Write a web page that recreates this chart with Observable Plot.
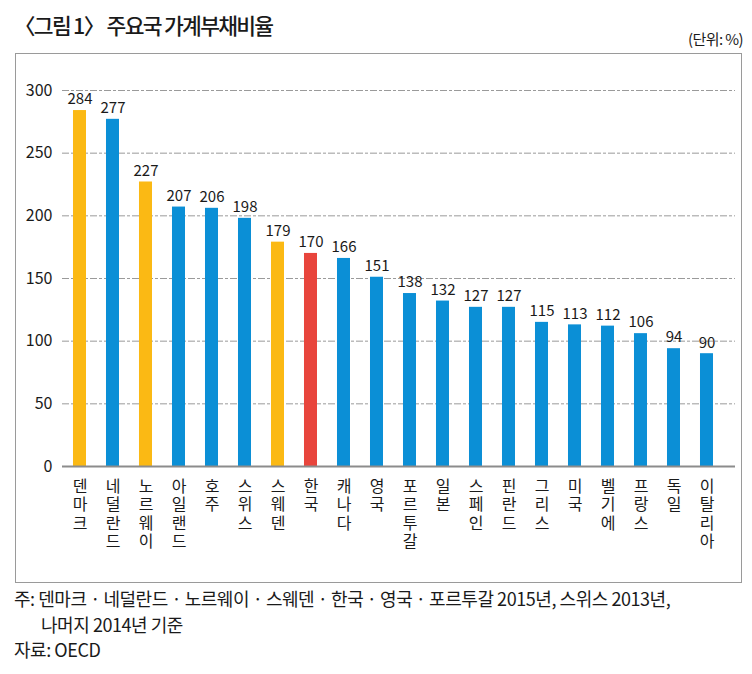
<!DOCTYPE html>
<html>
<head>
<meta charset="utf-8">
<script src="https://cdn.jsdelivr.net/npm/d3@7"></script>
<script src="https://cdn.jsdelivr.net/npm/@observablehq/plot@0.6"></script>
<style>
  html, body { margin: 0; padding: 0; background: #fff; }
  body { width: 752px; height: 674px; position: relative; overflow: hidden;
         font-family: "Noto Sans CJK KR", "Noto Sans", sans-serif; color: #1a1a1a; }
  #title { position: absolute; left: 14px; top: 9px; font-size: 21.5px; font-weight: 500;
           letter-spacing: -1.7px; white-space: nowrap; }
  #unit { position: absolute; right: 9px; top: 28px; font-size: 15px; letter-spacing: -0.6px; }
  #box { position: absolute; left: 15px; top: 53px; width: 725px; height: 528px; border: 1px solid #9a9a9a; }
  #chart { position: absolute; left: 0; top: 53px; }
  .note { position: absolute; font-size: 18px; letter-spacing: -0.45px; white-space: nowrap; }
</style>
</head>
<body>
<div id="title">〈그림 1〉 주요국 가계부채비율</div>
<div id="unit">(단위: %)</div>
<div id="box"></div>
<div id="chart"></div>
<div class="note" style="left:14px; top:585px;">주: 덴마크 · 네덜란드 · 노르웨이 · 스웨덴 · 한국 · 영국 · 포르투갈 2015년, 스위스 2013년,</div>
<div class="note" style="left:41px; top:611px;">나머지 2014년 기준</div>
<div class="note" style="left:14px; top:636px;">자료: OECD</div>
<script>
const countries = ["덴마크","네덜란드","노르웨이","아일랜드","호주","스위스","스웨덴","한국","캐나다","영국",
                   "포르투갈","일본","스페인","핀란드","그리스","미국","벨기에","프랑스","독일","이탈리아"];
const ratios = [284,277,227,207,206,198,179,170,166,151,138,132,127,127,115,113,112,106,94,90];
const nordic = ["덴마크","노르웨이","스웨덴"];
const focus = ["한국"];
const yTicks = [0,50,100,150,200,250,300];

const groupOf = c => focus.includes(c) ? "focus" : nordic.includes(c) ? "nordic" : "other";
const data = countries.map((c, i) => ({country: c, value: ratios[i], group: groupOf(c)}));

const chart = Plot.plot({
  width: 752,
  height: 529,
  marginLeft: 62,
  marginRight: 17,
  marginTop: 37,
  marginBottom: 116,
  style: {fontFamily: '"Noto Sans CJK KR", "Noto Sans", sans-serif', color: "#1a1a1a", background: "transparent"},
  x: {domain: countries, paddingInner: 0.606, paddingOuter: 0.5, align: 0.333, round: false, label: null},
  y: {domain: [0, 300], label: null},
  color: {domain: ["nordic", "focus", "other"], range: ["#fbb914", "#e8453c", "#0b8fd6"]},
  marks: [
    Plot.ruleY(yTicks.filter(d => d > 0), {stroke: "#9a9a9a", strokeWidth: 1, strokeDasharray: "7,2,3,2"}),
    Plot.barY(data, {x: "country", y: "value", fill: "group"}),
    Plot.ruleY([0], {stroke: "#8c8c8c", strokeWidth: 2}),
    Plot.text(data, {x: "country", y: "value", text: d => String(d.value), dy: -11,
                     fontSize: 15, fill: "#1a1a1a", style: "letter-spacing:-1px"}),
    Plot.axisY({ticks: yTicks, tickSize: 0, tickPadding: 10, fontSize: 16, label: null,
                tickFormat: d => String(d), style: "letter-spacing:-1px"}),
    Plot.axisX({tickSize: 0, tickPadding: 12, fontSize: 16, lineHeight: 1.16, label: null,
                tickFormat: d => d.split("").join("\n")})
  ]
});
document.getElementById("chart").appendChild(chart);
</script>
</body>
</html>
